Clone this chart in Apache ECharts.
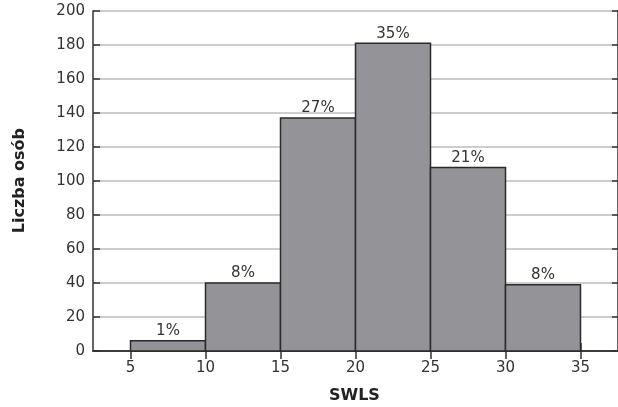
<!DOCTYPE html>
<html><head><meta charset="utf-8">
<script src="https://cdn.jsdelivr.net/npm/echarts@6/dist/echarts.min.js"></script>
<style>html,body{margin:0;padding:0;background:#fff}#c{width:618px;height:407px}</style>
</head><body><div id="c"></div>
<script>
const binStart = [5, 10, 15, 20, 25, 30];
const binEnd = [10, 15, 20, 25, 30, 35];
const counts = [6, 40, 137, 181, 108, 39];
const percents = ['1%', '8%', '27%', '35%', '21%', '8%'];
const yTicks = [0, 20, 40, 60, 80, 100, 120, 140, 160, 180, 200];
const xTicks = [5, 10, 15, 20, 25, 30, 35];

const FONT = '"DejaVu Sans"';
const data = binStart.map((s, i) => [s, binEnd[i], counts[i], percents[i]]);
const chart = echarts.init(document.getElementById('c'));
const dark = '#333';
chart.setOption({
  animation: false,
  grid: {left: 93, top: 11, bottom: 56, right: -4},
  xAxis: [{
    type: 'value', min: 2.5, max: 37.5, splitNumber: 7,
    axisLine: {show: true, onZero: false, lineStyle: {color: dark, width: 1.5}},
    axisTick: {show: true, inside: true, length: 8, customValues: xTicks, lineStyle: {color: dark, width: 1.5}},
    axisLabel: {customValues: xTicks, color: dark, fontFamily: FONT, fontSize: 15, margin: 10},
    splitLine: {show: false}
  }, {
    type: 'value', min: 2.5, max: 37.5, splitNumber: 7, position: 'top',
    axisLine: {show: true, lineStyle: {color: dark, width: 1.5}},
    axisTick: {show: true, inside: true, length: 8, customValues: xTicks, lineStyle: {color: dark, width: 1.5}},
    axisLabel: {show: false}, splitLine: {show: false}
  }],
  yAxis: [{
    type: 'value', min: yTicks[0], max: yTicks[yTicks.length - 1], interval: 20,
    axisLine: {show: true, lineStyle: {color: dark, width: 1.5}},
    axisTick: {show: true, inside: true, length: 7, lineStyle: {color: dark, width: 1.5}},
    axisLabel: {color: dark, fontFamily: FONT, fontSize: 15, margin: 8},
    splitLine: {show: true, lineStyle: {color: '#bdbdbd', width: 1.5}}
  }, {
    type: 'value', min: yTicks[0], max: yTicks[yTicks.length - 1], interval: 20, position: 'right',
    axisLine: {show: true, lineStyle: {color: dark, width: 1.5}},
    axisTick: {show: true, inside: true, length: 6, lineStyle: {color: dark, width: 1.5}},
    axisLabel: {show: false}, splitLine: {show: false}
  }],
  graphic: [{
    type: 'text', left: 12, top: 128, rotation: Math.PI / 2,
    style: {text: 'Liczba osób', font: 'bold 16px ' + FONT, fill: '#222'}
  }, {
    type: 'text', left: 329, top: 388,
    style: {text: 'SWLS', font: 'bold 16px ' + FONT, fill: '#222'}
  }],
  series: [{
    type: 'custom',
    data: data,
    encode: {x: [0, 1], y: 2},
    renderItem: function (params, api) {
      const p0 = api.coord([api.value(0), api.value(2)]);
      const p1 = api.coord([api.value(1), 0]);
      return {
        type: 'group',
        children: [{
          type: 'rect',
          shape: {x: p0[0], y: p0[1], width: p1[0] - p0[0], height: p1[1] - p0[1]},
          style: {fill: '#949498', stroke: '#2a2a2a', lineWidth: 1.5}
        }, {
          type: 'text',
          x: (p0[0] + p1[0]) / 2, y: p0[1] - 2,
          style: {text: percents[params.dataIndex], fill: dark, font: '15px ' + FONT, align: 'center', verticalAlign: 'bottom'}
        }]
      };
    }
  }]
});
</script></body></html>
